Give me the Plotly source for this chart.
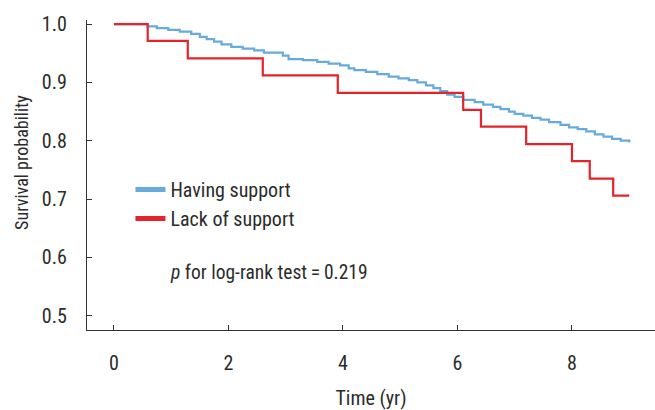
import plotly.graph_objects as go

# Kaplan-Meier step data
having_t = [0, 0.59, 0.75, 0.95, 1.15, 1.35, 1.50, 1.62, 1.75, 1.88, 2.05, 2.25, 2.45, 2.62,
            2.95, 3.05, 3.30, 3.55, 3.75, 3.95, 4.10, 4.20, 4.40, 4.60, 4.80, 4.97, 5.15,
            5.30, 5.45, 5.58, 5.70, 5.82, 5.95, 6.10, 6.30, 6.45, 6.62, 6.75, 6.90, 7.00,
            7.15, 7.30, 7.45, 7.60, 7.80, 7.95, 8.10, 8.25, 8.40, 8.55, 8.70, 8.85, 9.00]
having_s = [1.000, 0.996, 0.993, 0.990, 0.987, 0.983, 0.978, 0.974, 0.970, 0.965, 0.961,
            0.958, 0.955, 0.951, 0.946, 0.940, 0.938, 0.935, 0.932, 0.929, 0.924, 0.921,
            0.918, 0.914, 0.910, 0.907, 0.904, 0.900, 0.895, 0.890, 0.885, 0.879, 0.875,
            0.870, 0.866, 0.862, 0.858, 0.854, 0.850, 0.846, 0.843, 0.839, 0.836, 0.832,
            0.827, 0.823, 0.820, 0.816, 0.811, 0.807, 0.803, 0.800, 0.797]

lack_t = [0, 0.59, 1.29, 2.60, 3.91, 6.10, 6.41, 7.20, 8.00, 8.31, 8.72, 9.00]
lack_s = [1.000, 0.971, 0.941, 0.912, 0.882, 0.853, 0.824, 0.794, 0.765, 0.735, 0.706, 0.706]

x_ticks = [0, 2, 4, 6, 8]
y_ticks = [0.5, 0.6, 0.7, 0.8, 0.9, 1.0]

BLUE = "#66abdc"
RED = "#e3242b"
FONT = "Liberation Sans Narrow, Roboto Condensed, Roboto, sans-serif"
TXT = "#2b2b2b"

fig = go.Figure()
fig.add_trace(go.Scatter(x=having_t, y=having_s, mode="lines", line=dict(color=BLUE, width=2.2, shape="hv"),
                         name="Having support", showlegend=False))
fig.add_trace(go.Scatter(x=lack_t, y=lack_s, mode="lines", line=dict(color=RED, width=2.2, shape="hv"),
                         name="Lack of support", showlegend=False))
# legend entries with thick swatches
fig.add_trace(go.Scatter(x=[None], y=[None], mode="lines", line=dict(color=BLUE, width=5),
                         name="Having support", legendgroup="a"))
fig.add_trace(go.Scatter(x=[None], y=[None], mode="lines", line=dict(color=RED, width=5),
                         name="Lack of support", legendgroup="b"))

fig.add_annotation(x=0.142, y=0.184, xref="paper", yref="paper", xanchor="left", yanchor="middle",
                   text="<i>p</i> for log-rank test\u2009=\u20090.219", showarrow=False,
                   font=dict(family=FONT, size=19.5, color=TXT))
# y-axis title
fig.add_annotation(x=0, y=0.539, xref="paper", yref="paper", xanchor="center", yanchor="middle",
                   xshift=-65, textangle=-90, text="Survival probability", showarrow=False,
                   font=dict(family=FONT, size=18, color=TXT))

fig.update_layout(
    width=655, height=410,
    margin=dict(l=87, r=0, t=20, b=80),
    plot_bgcolor="white", paper_bgcolor="white",
    font=dict(family=FONT, size=20, color=TXT),
    showlegend=True,
    legend=dict(x=0.0765, y=0.516, xanchor="left", yanchor="top", bgcolor="rgba(0,0,0,0)",
                font=dict(family=FONT, size=20, color=TXT), tracegroupgap=0,
                traceorder="grouped", itemwidth=30),
    xaxis=dict(range=[-0.47, 9.45], tickvals=x_ticks, ticktext=[str(v) for v in x_ticks],
               showgrid=False, zeroline=False, showline=True, linecolor="#333", linewidth=1.3,
               ticks="inside", ticklen=5, tickcolor="#333", ticklabelstandoff=15,
               title=dict(text="Time (yr)", font=dict(family=FONT, size=20, color=TXT), standoff=16)),
    yaxis=dict(range=[0.4755, 1.0069], tickvals=y_ticks, ticktext=[f"{v:.1f}" for v in y_ticks],
               showgrid=False, zeroline=False, showline=True, linecolor="#333", linewidth=1.3,
               ticks="inside", ticklen=5, tickcolor="#333", ticklabelstandoff=15),
)

fig.write_html("out.html", config={"displayModeBar": False},
               post_script="document.body.style.margin='0';document.body.style.overflow='hidden';")
